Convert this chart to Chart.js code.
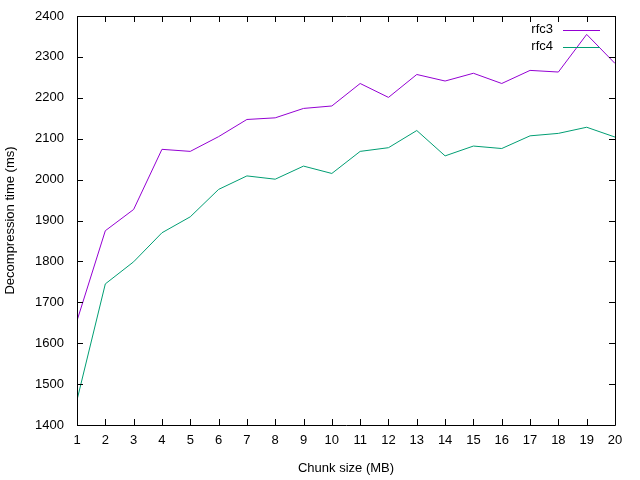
<!DOCTYPE html>
<html>
<head>
<meta charset="utf-8">
<script src="https://cdn.jsdelivr.net/npm/chart.js@4.4.0/dist/chart.umd.min.js"></script>
<style>
  html, body { margin: 0; padding: 0; background: #fff; }
  #wrap { width: 640px; height: 480px; }
</style>
</head>
<body>
<div id="wrap"><canvas id="chart" width="640" height="480"></canvas></div>
<script>
// data
const chunk_sizes = [1,2,3,4,5,6,7,8,9,10,11,12,13,14,15,16,17,18,19,20];
const rfc3_values = [1655,1875,1927,2074,2069,2105,2147,2151,2174,2180,2235,2201,2257,2241,2260,2235,2267,2263,2355,2284];
const rfc4_values = [1461,1745,1799,1870,1909,1976,2009,2001,2033,2015,2069,2078,2120,2058,2082,2076,2107,2113,2128,2104];
const series_names = ['rfc3','rfc4'];
const series_colors = ['#9400d3','#009e73'];

const font_family = '"Liberation Sans", Arial, sans-serif';
const font_size = 13;

function to_points(values)
{
    return chunk_sizes.map((x, i) => ({x: x, y: values[i]}));
}

// ram, inåtriktade ticks och gnuplot-lik legend
const gnuplot_frame = {
    id: 'gnuplot_frame',
    afterDraw(chart)
    {
        const ctx = chart.ctx;
        const area = chart.chartArea;
        const xs = chart.scales.x;
        const ys = chart.scales.y;
        ctx.save();
        ctx.strokeStyle = '#000';
        ctx.lineWidth = 1;
        ctx.beginPath();
        ctx.rect(Math.round(area.left) + 0.5, Math.round(area.top) + 0.5,
                 Math.round(area.right - area.left), Math.round(area.bottom - area.top));
        ctx.stroke();

        ctx.beginPath();
        xs.ticks.forEach((t, i) => {
            const px = Math.round(xs.getPixelForTick(i)) + 0.5;
            ctx.moveTo(px, area.bottom); ctx.lineTo(px, area.bottom - 6);
            ctx.moveTo(px, area.top); ctx.lineTo(px, area.top + 6);
        });
        ys.ticks.forEach((t, i) => {
            const py = Math.round(ys.getPixelForTick(i)) + 0.5;
            ctx.moveTo(area.left, py); ctx.lineTo(area.left + 6, py);
            ctx.moveTo(area.right, py); ctx.lineTo(area.right - 6, py);
        });
        ctx.stroke();

        // legend
        ctx.font = font_size + 'px ' + font_family;
        ctx.textAlign = 'right';
        ctx.textBaseline = 'middle';
        chart.data.datasets.forEach((ds, i) => {
            const ly = area.top + 13.5 + i * 17;
            ctx.fillStyle = '#000';
            ctx.fillText(ds.label, area.right - 62, ly);
            ctx.strokeStyle = ds.borderColor;
            ctx.beginPath();
            ctx.moveTo(area.right - 52, Math.round(ly) + 0.5);
            ctx.lineTo(area.right - 15, Math.round(ly) + 0.5);
            ctx.stroke();
        });
        ctx.restore();
    }
};

new Chart(document.getElementById('chart'), {
    type: 'line',
    data: {
        datasets: [
            { label: series_names[0], data: to_points(rfc3_values), borderColor: series_colors[0], borderWidth: 1, pointRadius: 0, tension: 0 },
            { label: series_names[1], data: to_points(rfc4_values), borderColor: series_colors[1], borderWidth: 1, pointRadius: 0, tension: 0 }
        ]
    },
    options: {
        responsive: false,
        animation: false,
        layout: { padding: { top: 16, right: 25, left: 0, bottom: 0 } },
        plugins: { legend: { display: false }, tooltip: { enabled: false } },
        scales: {
            x: {
                type: 'linear',
                min: 1, max: 20,
                afterFit: s => { s.height = 55; s.paddingLeft = 0; s.paddingRight = 0; },
                grid: { display: false, drawTicks: false },
                border: { display: false },
                ticks: { stepSize: 1, color: '#000', padding: 8, font: { family: font_family, size: font_size } },
                title: { display: true, text: 'Chunk size (MB)', color: '#000', padding: { top: 0, bottom: 4 }, font: { family: font_family, size: font_size } }
            },
            y: {
                min: 1400, max: 2400,
                afterFit: s => { s.width = 77; s.paddingTop = 0; s.paddingBottom = 0; },
                grid: { display: false, drawTicks: false },
                border: { display: false },
                ticks: { stepSize: 100, color: '#000', padding: 13, callback: v => String(v), font: { family: font_family, size: font_size } },
                title: { display: true, text: 'Decompression time (ms)', color: '#000', padding: { top: 3, bottom: 0 }, font: { family: font_family, size: font_size } }
            }
        }
    },
    plugins: [gnuplot_frame]
});
</script>
</body>
</html>
